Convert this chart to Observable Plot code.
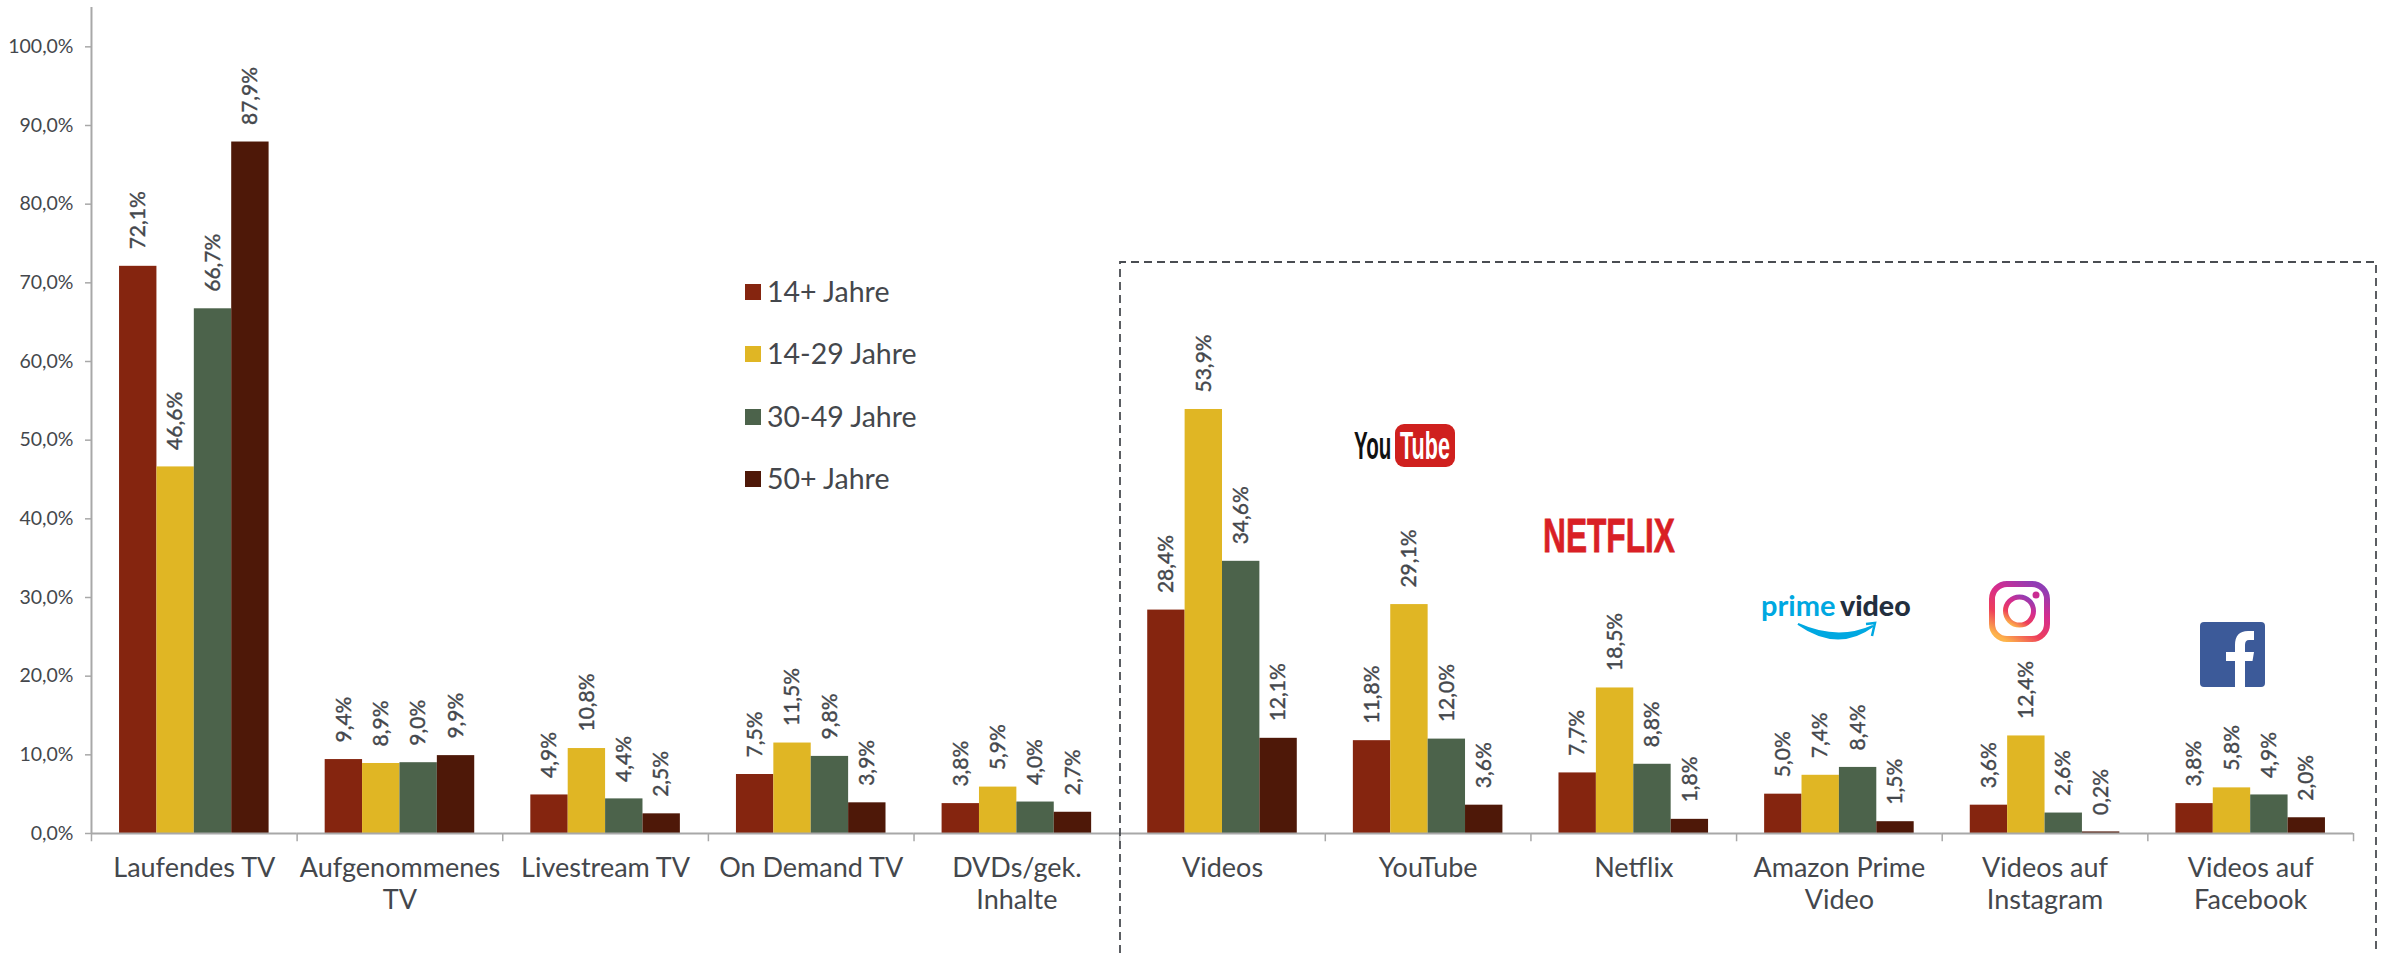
<!DOCTYPE html>
<html><head><meta charset="utf-8">
<script src="https://cdn.jsdelivr.net/npm/d3@7"></script>
<script src="https://cdn.jsdelivr.net/npm/@observablehq/plot@0.6"></script>
<style>
html,body{margin:0;padding:0;background:#fff;overflow:hidden}
#wrap{position:relative;width:2382px;height:953px;font-family:Lato,sans-serif}
#wrap svg{display:block}
.leg{position:absolute;left:745px;font-size:28.5px;color:#44474c;line-height:32px;display:flex;align-items:center;gap:6px}
.leg i{display:inline-block;width:16px;height:16px}
.leg span{position:relative;top:-1px}
#over{position:absolute;left:0;top:0;pointer-events:none}
</style></head><body><div id="wrap"></div>
<script>
const categories = ["Laufendes TV","Aufgenommenes\nTV","Livestream TV","On Demand TV","DVDs/gek.\nInhalte","Videos","YouTube","Netflix","Amazon Prime\nVideo","Videos auf\nInstagram","Videos auf\nFacebook"];
const seriesNames = ["14+ Jahre","14-29 Jahre","30-49 Jahre","50+ Jahre"];
const seriesColors = ["#85250f","#e0b624","#4c634b","#4e1808"];
const v14plus = [72.1,9.4,4.9,7.5,3.8,28.4,11.8,7.7,5.0,3.6,3.8];
const v14to29 = [46.6,8.9,10.8,11.5,5.9,53.9,29.1,18.5,7.4,12.4,5.8];
const v30to49 = [66.7,9.0,4.4,9.8,4.0,34.6,12.0,8.8,8.4,2.6,4.9];
const v50plus = [87.9,9.9,2.5,3.9,2.7,12.1,3.6,1.8,1.5,0.2,2.0];
const yTicks = [0,10,20,30,40,50,60,70,80,90,100];
const allSeries = [v14plus,v14to29,v30to49,v50plus];
const rows = categories.flatMap((c,i)=>seriesNames.map((s,j)=>({category:c,series:s,value:allSeries[j][i]})));
const comma = (d,dig=1)=>d.toFixed(dig).replace(".",",")+"%";
const ink="#44474c", axisGrey="#a8a8a8";
const chart = Plot.plot({
  width:2382,height:953,marginLeft:91,marginRight:29,marginTop:7,marginBottom:120,
  style:{fontFamily:"Lato, sans-serif",background:"#fff",color:ink},
  fx:{domain:categories,padding:0,round:false,label:null},
  x:{domain:seriesNames,paddingInner:0,paddingOuter:0.75,round:false,axis:null,label:null},
  y:{domain:[0,105],axis:null,label:null},
  color:{domain:seriesNames,range:seriesColors},
  marks:[
    Plot.barY(rows,{fx:"category",x:"series",y:"value",fill:"series"}),
    Plot.text(rows,{fx:"category",x:"series",y:"value",text:d=>comma(d.value),rotate:-90,textAnchor:"start",dy:-17,fontSize:21,fill:ink,stroke:ink,strokeWidth:0.4}),
    Plot.ruleX(categories,{fx:d=>d,x:()=>seriesNames[0],y1:()=>0,y2:()=>-1.05,dx:-46.75,stroke:axisGrey,strokeWidth:1.5}),
    Plot.ruleX(categories.slice(-1),{fx:d=>d,x:()=>seriesNames[3],y1:()=>0,y2:()=>-1.05,dx:46.75,stroke:axisGrey,strokeWidth:1.5}),
    Plot.ruleX(categories.slice(0,1),{fx:d=>d,x:()=>seriesNames[0],y1:()=>0,y2:()=>105,dx:-46.75,stroke:axisGrey,strokeWidth:2}),
    Plot.axisFx({anchor:"bottom",tickSize:0,tickPadding:21,fontSize:27,lineHeight:1.17,label:null,textOverflow:null,lineWidth:Infinity,fill:ink}),
    Plot.axisY({ticks:yTicks,tickFormat:d=>comma(d),fontSize:19.5,tickSize:6,tickPadding:12,stroke:axisGrey,strokeWidth:1.5,label:null,fill:ink}),
    Plot.ruleY([0],{stroke:axisGrey,strokeWidth:2})
  ]
});
const wrap=document.getElementById("wrap");
wrap.appendChild(chart);
// legend
const legTops=[276,338,401,463];
seriesNames.forEach((s,i)=>{
  const d=document.createElement("div");d.className="leg";d.style.top=legTops[i]+"px";
  d.innerHTML=`<i style="background:${seriesColors[i]}"></i><span>${s}</span>`;wrap.appendChild(d);
});
// annotation box + logos
const over=document.createElementNS("http://www.w3.org/2000/svg","svg");
over.setAttribute("id","over");over.setAttribute("width",2382);over.setAttribute("height",953);
over.innerHTML=`
<defs><linearGradient id="ig" x1="0.2" y1="1" x2="0.8" y2="0">
<stop offset="0" stop-color="#fdb44b"/><stop offset="0.3" stop-color="#ee3f5a"/><stop offset="0.65" stop-color="#d52c8f"/><stop offset="1" stop-color="#8f3db5"/></linearGradient></defs>
<path d="M1120 953V262H2376V953" fill="none" stroke="#4a4d52" stroke-width="1.8" stroke-dasharray="8 5"/>
<!-- YouTube -->
<text transform="translate(1354,459) scale(0.84,1.6)" font-family="'Liberation Sans Narrow',sans-serif" font-weight="700" font-size="24.5" fill="#111">You</text>
<rect x="1395" y="424" width="60" height="43" rx="9" fill="#cf201e"/>
<text transform="translate(1400,459) scale(0.88,1.6)" font-family="'Liberation Sans Narrow',sans-serif" font-weight="700" font-size="24.5" fill="#fff">Tube</text>
<!-- Netflix -->
<text x="1543" y="552" font-family="'Liberation Sans Narrow',sans-serif" font-weight="700" font-size="49" textLength="132" lengthAdjust="spacingAndGlyphs" fill="#d91f26" stroke="#d91f26" stroke-width="0.8">NETFLIX</text>
<!-- prime video -->
<text x="1761" y="616" font-family="Lato,sans-serif" font-weight="700" font-size="29" fill="#00a8e1">prime</text>
<text x="1840" y="616" font-family="Lato,sans-serif" font-weight="900" font-size="28.5" fill="#232f3e">video</text>
<path d="M1798 624Q1838 652 1873 626Q1838 642 1798 624Z" fill="#00a8e1" stroke="#00a8e1" stroke-width="2"/>
<path d="M1866 624L1875 623L1872 636" fill="none" stroke="#00a8e1" stroke-width="2.5"/>
<!-- Instagram -->
<rect x="1992" y="584" width="55" height="55" rx="15" fill="none" stroke="url(#ig)" stroke-width="6"/>
<circle cx="2019.5" cy="611" r="14" fill="none" stroke="url(#ig)" stroke-width="5"/>
<circle cx="2036" cy="595" r="3.5" fill="#c92c92"/>
<!-- Facebook -->
<rect x="2200" y="622" width="65" height="65" rx="4" fill="#3c5a99"/>
<path d="M2235 687V661H2226V652H2235V645Q2235 631 2248 631H2254V640H2249Q2245 640 2245 645V652H2254L2252.5 661H2245V687Z" fill="#fff"/>
`;
wrap.appendChild(over);
</script></body></html>
